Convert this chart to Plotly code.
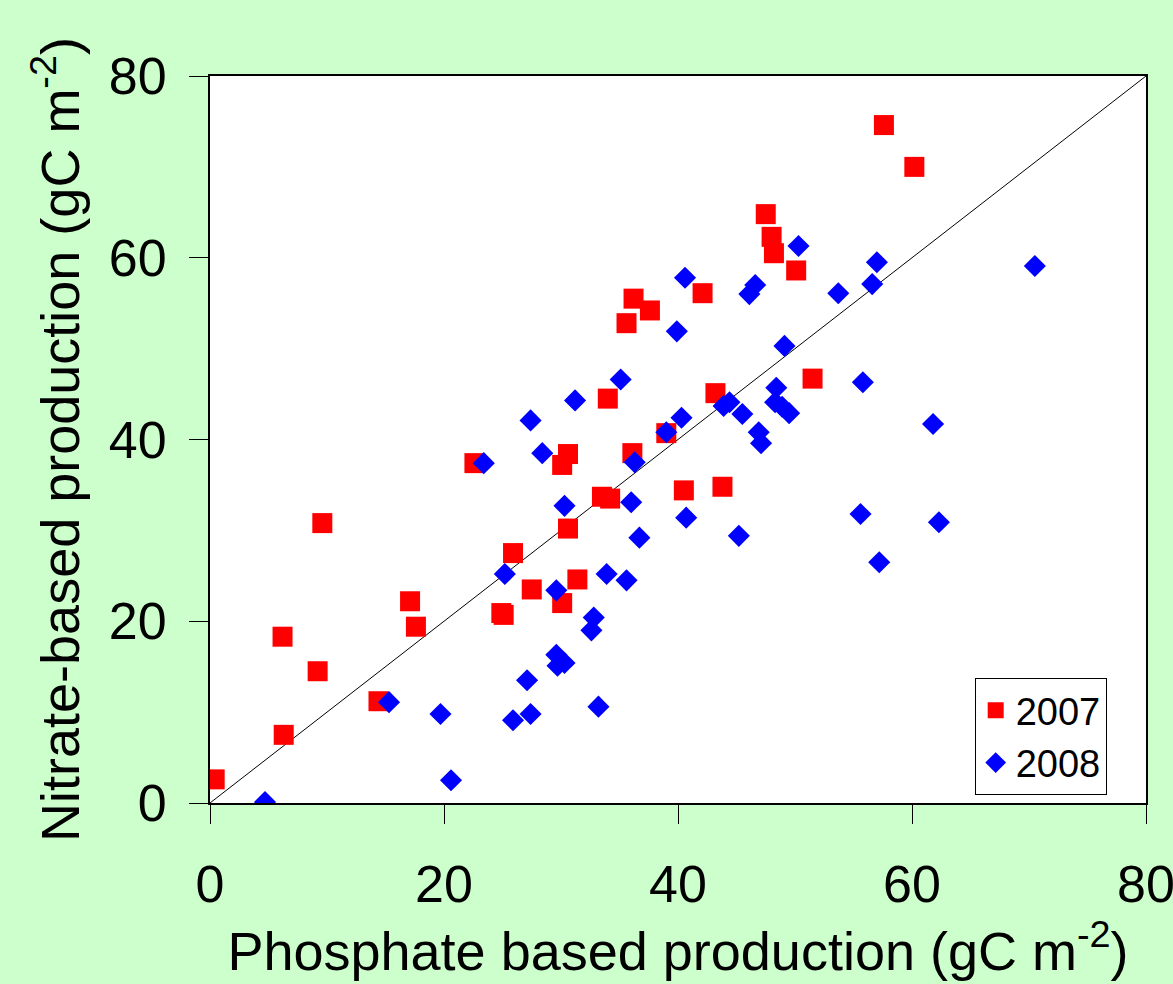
import plotly.graph_objects as go

# 2007 data (phosphate-based x, nitrate-based y)
x2007 = [0.4, 6.2, 6.3, 9.6, 9.2, 14.4, 17.1, 17.6, 22.6, 24.9, 25.1, 27.5, 30.6, 30.1, 31.4,
         30.6, 30.1, 25.9, 33.5, 34.2, 47.5, 48.0, 48.2, 50.1, 42.1, 36.2, 37.6, 35.6, 34.0,
         43.2, 51.5, 39.0, 36.1, 40.5, 43.8, 57.6, 60.2]
y2007 = [2.6, 18.3, 7.5, 30.8, 14.5, 11.2, 22.2, 19.4, 37.4, 20.9, 20.7, 23.5, 30.2, 22.0, 24.6,
         38.4, 37.2, 27.5, 33.7, 33.5, 64.8, 62.3, 60.5, 58.6, 56.1, 55.5, 54.2, 52.8, 44.5,
         45.1, 46.7, 40.7, 38.5, 34.4, 34.8, 74.6, 70.0]

# 2008 data
x2008 = [4.7, 20.6, 19.7, 15.3, 25.9, 27.4, 27.1, 29.7, 30.3, 29.6, 32.8, 32.6, 33.2, 25.2,
         29.6, 23.4, 28.4, 30.3, 27.4, 50.3, 40.6, 46.6, 46.1, 53.7, 39.9, 49.1, 35.1, 31.2,
         48.4, 44.4, 43.9, 45.5, 48.3, 48.9, 49.5, 46.9, 47.1, 40.3, 39.0, 36.3, 36.0, 40.7,
         36.7, 45.2, 33.9, 35.6, 57.0, 56.6, 70.5, 55.8, 61.8, 55.6, 62.3, 57.2]
y2008 = [0.1, 2.5, 9.8, 11.1, 9.1, 9.8, 13.5, 15.1, 15.4, 16.3, 20.4, 19.0, 10.6, 25.2,
         23.4, 37.4, 38.5, 32.7, 42.1, 61.3, 57.8, 57.0, 56.0, 56.1, 51.9, 50.3, 46.6, 44.3,
         45.7, 44.1, 43.7, 42.8, 44.1, 43.6, 42.9, 40.8, 39.6, 42.4, 40.8, 37.5, 33.1, 31.4,
         29.2, 29.4, 25.2, 24.5, 59.5, 57.1, 59.1, 46.3, 41.7, 31.8, 30.9, 26.5]

# 1:1 line
diag = [0, 80]
ticks = [0, 20, 40, 60, 80]

fig = go.Figure()
fig.add_trace(go.Scatter(x=diag, y=diag, mode="lines",
                         line=dict(color="black", width=1), showlegend=False,
                         hoverinfo="skip"))
fig.add_trace(go.Scatter(x=x2007, y=y2007, mode="markers", name="2007",
                         marker=dict(symbol="square", size=20, color="#FF0000")))
fig.add_trace(go.Scatter(x=x2008, y=y2008, mode="markers", name="2008",
                         marker=dict(symbol="diamond", size=17, color="#0000FF")))

font = "Liberation Sans, Arial, sans-serif"
fig.update_layout(
    width=1173, height=984,
    paper_bgcolor="#CCFFCC", plot_bgcolor="white",
    margin=dict(l=210, r=27, t=76, b=181, autoexpand=False),
    font=dict(family=font, color="black"),
    showlegend=True,
    legend=dict(x=0.958, y=0.011, xanchor="right", yanchor="bottom",
                bgcolor="white", bordercolor="black", borderwidth=1,
                font=dict(size=38, family=font), itemsizing="trace",
                tracegroupgap=0),
    xaxis=dict(range=[0, 80], tickvals=ticks, showgrid=False, zeroline=False,
               showline=True, linecolor="black", linewidth=2, mirror=True,
               ticks="outside", ticklen=19, tickcolor="black", tickwidth=1,
               tickfont=dict(size=52), ticklabelstandoff=16,
               ticklabeloverflow="allow",
               title=dict(text="Phosphate based production (gC m<sup>-2</sup>)",
                          font=dict(size=54), standoff=14)),
    yaxis=dict(range=[0, 80], tickvals=ticks, showgrid=False, zeroline=False,
               showline=True, linecolor="black", linewidth=2, mirror=True,
               ticks="outside", ticklen=19, tickcolor="black", tickwidth=1,
               tickfont=dict(size=52), ticklabelstandoff=12,
               ticklabeloverflow="allow",
               title=dict(text="Nitrate-based production (gC m<sup>-2</sup>)",
                          font=dict(size=54), standoff=12)),
)

fig.write_html("out.html", config={"displayModeBar": False},
               post_script="document.body.style.margin='0';")
